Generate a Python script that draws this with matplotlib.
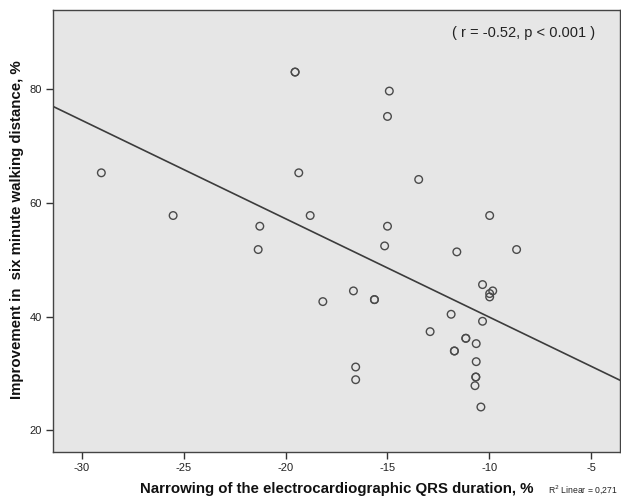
import matplotlib
matplotlib.use("Agg")
import matplotlib.pyplot as plt
import numpy as np
from matplotlib import font_manager

# ---- data ----
qrs_narrowing = [-29.03, -25.51, -19.53, -19.53, -19.35, -18.79, -21.26, -21.34,
                 -18.17, -16.67, -16.56, -16.56, -15.64, -15.64, -14.91, -15.00,
                 -15.00, -15.14, -13.47, -12.91, -11.88, -11.60, -11.72, -11.72,
                 -11.16, -11.16, -10.65, -10.65, -10.67, -10.67, -10.71, -10.42,
                 -10.34, -10.34, -9.99, -9.99, -9.99, -9.84, -8.67]
walk_improvement = [65.28, 57.77, 82.99, 82.99, 65.28, 57.77, 55.89, 51.79,
                    42.64, 44.52, 31.14, 28.91, 42.99, 42.99, 79.65, 75.19,
                    55.89, 52.43, 64.11, 37.36, 40.41, 51.38, 33.96, 33.96,
                    36.19, 36.19, 35.25, 32.08, 29.38, 29.38, 27.86, 24.11,
                    45.63, 39.18, 57.77, 44.05, 43.46, 44.52, 51.79]
x_ticks = [-30, -25, -20, -15, -10, -5]
y_ticks = [20, 40, 60, 80]
x_label = "Narrowing of the electrocardiographic QRS duration, %"
y_label = "Improvement in  six minute walking distance, %"
stat_text = "( r = -0.52, p < 0.001 )"
r2_text = "R$^2$ Linear = 0,271"

names = {f.name for f in font_manager.fontManager.ttflist}
narrow = "Liberation Sans Narrow" if "Liberation Sans Narrow" in names else "Liberation Sans"
plt.rcParams["font.family"] = ["Liberation Sans", "DejaVu Sans"]

fig = plt.figure(figsize=(6.21, 4.99), dpi=100)
ax = fig.add_axes([53 / 621, 1 - 452 / 499, 567 / 621, 442 / 499])
ax.set_facecolor("#e6e6e6")

x = np.array(qrs_narrowing)
y = np.array(walk_improvement)
ax.scatter(x, y, s=30, facecolors="none", edgecolors="#4a4a4a", linewidths=1.0, zorder=3)

xlim = (-31.4, -3.6)
ylim = (16.2, 93.9)
slope, intercept = np.polyfit(x, y, 1)
xx = np.array(xlim)
ax.plot(xx, slope * xx + intercept, color="#3c3c3c", lw=1.2, zorder=2)

ax.set_xlim(*xlim)
ax.set_ylim(*ylim)
ax.set_xticks(x_ticks)
ax.set_yticks(y_ticks)
ax.set_xticklabels([str(t) for t in x_ticks], fontfamily=narrow, fontsize=8, color="#222222")
ax.set_yticklabels([str(t) for t in y_ticks], fontfamily=narrow, fontsize=8, color="#222222")
ax.tick_params(direction="out", length=5, width=1, color="#333333", pad=3)
for sp in ax.spines.values():
    sp.set_color("#444444")
    sp.set_linewidth(1.0)

fig.text(17 / 621, 1 - 230 / 499, y_label, rotation=90, ha="center", va="center",
         fontsize=10.8, fontweight="bold", color="#111111")
fig.text(337 / 621, 1 - 489 / 499, x_label, ha="center", va="center",
         fontsize=10.8, fontweight="bold", color="#111111")
fig.text(548 / 621, 1 - 490 / 499, r2_text, ha="left", va="center",
         fontsize=6.2, fontfamily=narrow, color="#222222")
ax.text((595 - 53) / 567, 0.948, stat_text, transform=ax.transAxes, ha="right", va="center",
        fontsize=10.5, fontfamily=narrow, color="#222222")

fig.savefig("out.png", dpi=100)
